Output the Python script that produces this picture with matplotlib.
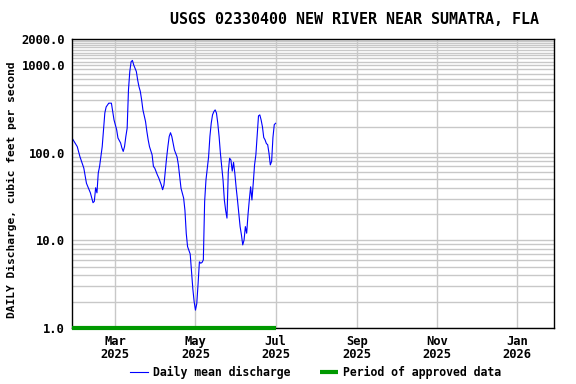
import matplotlib
matplotlib.use('Agg')
import matplotlib.pyplot as plt
import matplotlib.dates as mdates
from matplotlib.ticker import FixedLocator, NullFormatter
import numpy as np

start = np.datetime64('2025-01-27')
day = [0, 4, 6, 9, 11, 14, 16, 17, 18, 19, 20, 21, 23, 24, 25, 26, 28, 30, 31, 32,
       34, 35, 37, 38, 39, 40, 41, 42, 43, 44, 45, 46, 47, 49, 50, 51, 52, 53, 54, 56,
       57, 58, 59, 61, 62, 63, 65, 66, 68, 69, 70, 71, 72, 73, 74, 75, 76, 77, 78, 80,
       81, 82, 83, 85, 86, 87, 88, 90, 91, 92, 93, 94, 95, 96, 97, 98, 99, 100, 101, 102,
       104, 105, 106, 107, 108, 109, 110, 111, 112, 113, 114, 115, 116, 117, 118, 119, 120, 121, 122, 123,
       124, 125, 126, 127, 128, 129, 130, 131, 132, 133, 134, 135, 136, 137, 138, 139, 140, 141, 142, 143,
       144, 145, 146, 147, 148, 149, 150, 151, 152, 153, 154, 155]
flow = [148, 118, 91, 67, 45, 35, 27, 28, 40, 35, 59, 70, 118, 184, 286, 335, 370, 370, 296, 238,
        184, 148, 130, 114, 104, 118, 154, 192, 525, 850, 1100, 1140, 1010, 850, 680, 570, 505, 405, 310, 228,
        176, 141, 118, 95, 70, 67, 56, 52, 43, 38, 43, 61, 87, 118, 154, 170, 154, 128, 108, 90,
        73, 54, 39.5, 30.5, 22, 12, 8.5, 7, 4.5, 2.8, 2.0, 1.6, 1.9, 3.2, 5.7, 5.5, 5.6, 6.0, 28, 49,
        90, 154, 218, 272, 296, 310, 285, 218, 154, 99, 70, 49, 29, 22, 18, 61, 87, 83, 62, 78,
        58, 40, 29, 20.4, 14.4, 11.6, 8.9, 10.1, 14.4, 12.1, 19.6, 29, 41, 29, 45, 73, 95, 160, 265, 272,
        238, 199, 150, 141, 128, 124, 99, 73, 80, 150, 210, 218]

approved_start = '2025-01-27'
approved_end = '2025-07-01'
x_start = '2025-01-27'
x_end = '2026-01-29'

title = 'USGS 02330400 NEW RIVER NEAR SUMATRA, FLA'
ylab = 'DAILY Discharge, cubic feet per second'
yticks = [1, 10, 100, 1000, 2000]
ytick_labels = ['1.0', '10.0', '100.0', '1000.0', '2000.0']

dates = start + np.array(day).astype('timedelta64[D]')

font = 'DejaVu Sans Mono'

fig = plt.figure(figsize=(5.76, 3.84), dpi=100)
ax = fig.add_axes([0.125, 0.1458, 0.8368, 0.7526])

ax.plot(dates, flow, color='blue', lw=0.8, label='Daily mean discharge')
ax.plot([np.datetime64(approved_start), np.datetime64(approved_end)], [1.0, 1.0],
        color='#009900', lw=3, solid_capstyle='butt', label='Period of approved data',
        clip_on=False, zorder=5)

ax.set_yscale('log')
ax.set_ylim(1, 2000)
ax.set_xlim(np.datetime64(x_start), np.datetime64(x_end))

# minor grid: 2..9 per decade, every 100 between 1000 and 2000
minor = [m * 10**d for d in range(3) for m in range(2, 10)] + list(range(1100, 2000, 100))
ax.yaxis.set_major_locator(FixedLocator(yticks))
ax.yaxis.set_minor_locator(FixedLocator(minor))
ax.yaxis.set_minor_formatter(NullFormatter())
ax.set_yticklabels(ytick_labels)

ax.xaxis.set_major_locator(mdates.MonthLocator(bymonth=[1, 3, 5, 7, 9, 11]))
ax.xaxis.set_major_formatter(mdates.DateFormatter('%b\n%Y'))

ax.grid(True, which='both', color='#c8c8c8', lw=1)
ax.set_axisbelow(True)
ax.tick_params(which='both', length=0)
ax.tick_params(axis='x', pad=5)
ax.tick_params(axis='y', pad=5)
for lab in ax.get_xticklabels() + ax.get_yticklabels():
    lab.set_fontfamily(font)
    lab.set_fontweight('bold')
    lab.set_fontsize(8.7)
for lab in ax.get_xticklabels():
    lab.set_linespacing(1.05)
for s in ax.spines.values():
    s.set_color('black')
    s.set_linewidth(1)

ax.set_ylabel(ylab, fontfamily=font, fontweight='bold', fontsize=8.1)
ax.yaxis.set_label_coords(-0.124, 0.48)
ax.yaxis.label.set_va('center')
fig.text(0.616, 0.948, title, ha='center', va='center',
         fontfamily=font, fontweight='bold', fontsize=10.8)

leg = fig.legend(loc='center', bbox_to_anchor=(0.548, 0.029), ncol=2, frameon=False,
                 prop={'family': font, 'weight': 'bold', 'size': 8.3},
                 handlelength=1.56, columnspacing=2.5, handletextpad=0.5)

fig.savefig('out.png', dpi=100)
